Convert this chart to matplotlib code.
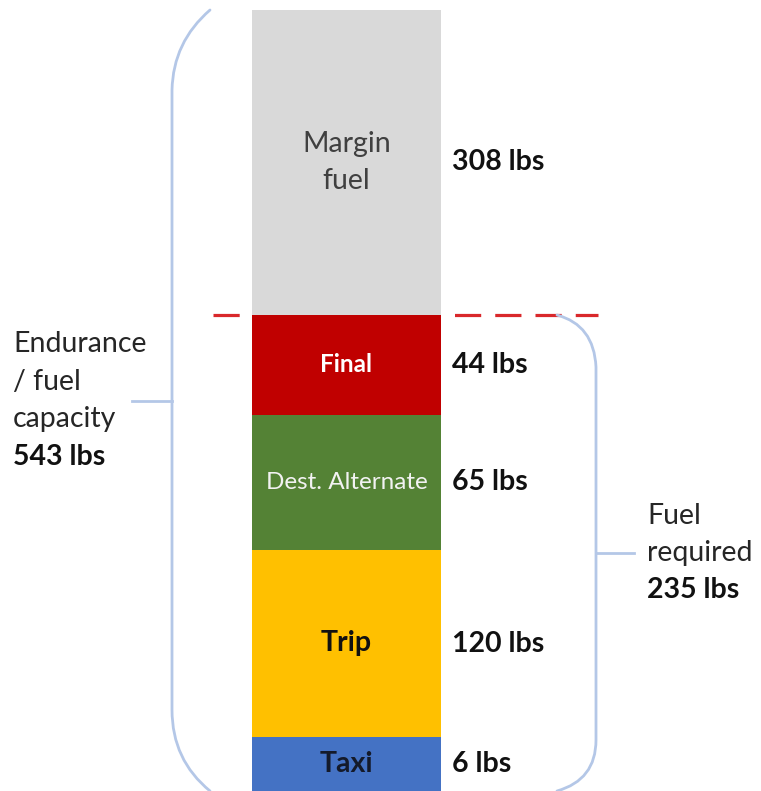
import matplotlib.pyplot as plt
from matplotlib.path import Path
from matplotlib.patches import PathPatch

plt.rcParams['font.family'] = ['Lato', 'DejaVu Sans']

# fuel breakdown, bottom to top
segments = ["Taxi", "Trip", "Dest. Alternate", "Final", "Margin\nfuel"]
fuel_lbs = [6, 120, 65, 44, 308]
# the bar in the original is schematic, not to scale
drawn_height = [54, 187, 135, 100, 305]
colors = ["#4472C4", "#FFC000", "#548235", "#C00000", "#D9D9D9"]
text_colors = ["#141a2a", "#111111", "#F2F2F2", "#FFFFFF", "#404040"]
text_weight = ["bold", "bold", "normal", "bold", "normal"]
text_size = [20.5, 20.5, 17.5, 17.5, 20.5]

n_required = 4  # taxi..final count as required fuel
total_lbs = sum(fuel_lbs)
required_lbs = sum(fuel_lbs[:n_required])

fig = plt.figure(figsize=(7.61, 7.91), dpi=100)
ax = fig.add_axes([0, 0, 1, 1])
ax.set_xlim(0, 761)
ax.set_ylim(0, 791)
ax.axis('off')

bar_x = 346.5
bar_w = 189
bottoms = []
b = 0
for h in drawn_height:
    bottoms.append(b)
    b += h
top = b
req_top = bottoms[n_required]

# dashed line where required fuel ends (sits behind the bar)
dl, = ax.plot([213, 598], [req_top, req_top], color="#D9282B", lw=2.3, zorder=1)
dl.set_dashes([8.2, 4.4])
dl.set_dash_capstyle('butt')

ax.bar(bar_x, drawn_height, bottom=bottoms, width=bar_w, color=colors, zorder=2)

for i in range(len(segments)):
    mid = bottoms[i] + drawn_height[i] / 2
    ax.text(bar_x, mid, segments[i], ha='center', va='center', color=text_colors[i],
            fontsize=text_size[i], fontweight=text_weight[i], linespacing=1.55, zorder=3)
    ax.text(452, mid, f"{fuel_lbs[i]} lbs", ha='left', va='center', color="#111111",
            fontsize=20.5, fontweight='bold', zorder=3)

brace_col = "#B4C7E7"

# left bracket: whole tank
lp = Path([(210, top), (173, top - 32), (172, top - 80),
           (172, 81), (172, 31), (210, 0)],
          [Path.MOVETO, Path.CURVE3, Path.CURVE3, Path.LINETO, Path.CURVE3, Path.CURVE3])
ax.add_patch(PathPatch(lp, fill=False, edgecolor=brace_col, lw=2, capstyle='round'))
ax.plot([132, 172], [top / 2, top / 2], color=brace_col, lw=2)

# right bracket: required fuel
rp = Path([(557, req_top), (594, req_top - 10), (596, req_top - 52),
           (596, 51), (596, 11), (557, 0)],
          [Path.MOVETO, Path.CURVE3, Path.CURVE3, Path.LINETO, Path.CURVE3, Path.CURVE3])
ax.add_patch(PathPatch(rp, fill=False, edgecolor=brace_col, lw=2, capstyle='round'))
ax.plot([596, 634], [req_top / 2, req_top / 2], color=brace_col, lw=2)

line_gap = 37.5


def block(x, yc, lines, bold_line):
    n = len(lines) + 1
    y0 = yc + line_gap * (n - 1) / 2
    for k, s in enumerate(lines):
        ax.text(x, y0 - k * line_gap, s, ha='left', va='center', fontsize=20.5, color="#262626")
    ax.text(x, y0 - len(lines) * line_gap, bold_line, ha='left', va='center',
            fontsize=20.5, fontweight='bold', color="#111111")


block(13, top / 2, ["Endurance", "/ fuel", "capacity"], f"{total_lbs} lbs")
block(647, req_top / 2, ["Fuel", "required"], f"{required_lbs} lbs")

fig.savefig("out.png", dpi=100)
